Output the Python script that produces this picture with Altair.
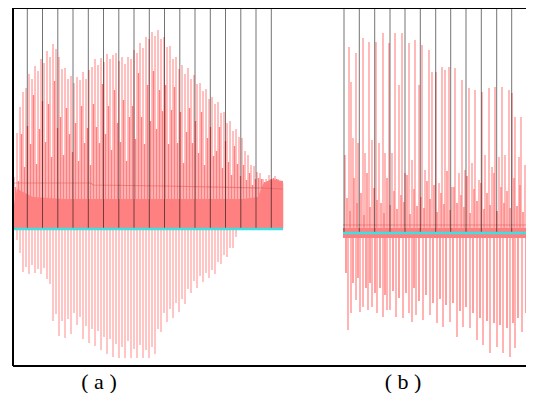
import altair as alt
import pandas as pd

# ---- extents (x = sample index, y = amplitude; panel (a) baseline = 0) ----
X_MIN, X_MAX = 0, 513
Y_MIN, Y_MAX = -137, 221
B_BASE = -4          # baseline of panel (b)
A_END = 270          # last sample of panel (a)
B_START, B_END = 330, 521

# ---- panel (a) : upward pulses ----
a_peak_x = [1 + 3 * i for i in range(90)]
a_peak = [52, 96, 122, 137, 141, 155, 150, 163, 158, 170,
          166, 178, 172, 185, 180, 172, 160, 161, 150, 153,
          146, 152, 149, 157, 150, 159, 162, 170, 164, 171,
          167, 175, 170, 174, 176, 168, 172, 165, 172, 170,
          179, 176, 186, 181, 192, 190, 197, 193, 199, 190,
          192, 182, 183, 170, 172, 160, 164, 155, 161, 150,
          154, 145, 146, 138, 140, 130, 132, 125, 127, 116,
          117, 106, 108, 98, 100, 92, 91, 78, 74, 64,
          63, 57, 56, 50, 50, 54, 49, 53, 50, 48]
a_mid_x = [2.5 + 3 * i for i in range(90)]
a_mid = [42, 48, 95, 62, 103, 85, 134, 65, 100, 128,
         87, 125, 72, 148, 101, 112, 74, 121, 95, 77,
         106, 68, 123, 86, 101, 64, 125, 102, 86, 145,
         95, 123, 79, 139, 106, 87, 129, 68, 112, 123,
         90, 156, 112, 85, 144, 108, 158, 100, 139, 118,
         144, 85, 119, 142, 86, 117, 66, 97, 121, 86,
         108, 76, 117, 64, 91, 102, 73, 78, 102, 61,
         88, 67, 54, 83, 65, 53, 64, 49, 56, 44,
         50, 51, 50, 47, 48, 49, 51, 50, 47, 46]
# ---- panel (a) : downward pulses ----
a_down_x = [4 + 3 * i for i in range(74)]
a_down = [-11, -24, -43, -38, -45, -36, -44, -40, -45, -39,
          -50, -55, -92, -85, -107, -92, -109, -90, -105, -84,
          -96, -88, -110, -97, -114, -100, -117, -102, -121, -108,
          -125, -110, -128, -115, -129, -118, -129, -112, -129, -120,
          -129, -116, -129, -121, -129, -118, -125, -100, -103, -84,
          -93, -80, -89, -74, -83, -70, -75, -60, -64, -52,
          -59, -47, -53, -44, -49, -41, -45, -33, -35, -26,
          -28, -19, -19, -8]
# ---- panel (a) : dense body and level line ----
a_body_x = [0, 4, 20, 50, 90, 140, 190, 230, 245, 250, 258, 270]
a_body = [20, 40, 32, 30, 30, 30, 30, 30, 32, 45, 50, 48]
a_level_x = [0, 78, 80, 150, 250, 270]
a_level = [46, 46, 44, 43, 41, 40]

# ---- panel (b) ----
b_up_x = [332, 336, 338, 340, 343, 345, 350, 352, 356, 359, 363, 366, 370, 372,
          376, 379, 382, 386, 389, 392, 396, 399, 402, 406, 409, 412, 416, 419,
          423, 426, 429, 432, 436, 439, 442, 446, 449, 452, 456, 459, 462, 466,
          469, 472, 476, 479, 482, 486, 489, 492, 496, 499, 502, 506, 508, 512,
          516, 519]
b_up = [78, 186, 151, 95, 180, 90, 195, 80, 191, 93, 191, 90, 200, 80,
        190, 80, 200, 148, 200, 60, 190, 73, 193, 148, 188, 63, 183, 161,
        161, 50, 166, 163, 166, 46, 165, 60, 153, 63, 145, 70, 143, 53,
        141, 78, 145, 66, 146, 76, 146, 78, 143, 140, 116, 76, 116, 68,
        33, 80]
b_small_x = [334, 341, 348, 354, 361, 368, 374, 381, 388, 394, 401, 408, 414, 421,
             428, 434, 441, 448, 454, 461, 468, 474, 481, 488, 494, 501, 507, 514, 520]
b_small = [35, 55, 40, 60, 45, 30, 55, 42, 38, 58, 44, 36, 52, 48,
           40, 62, 46, 38, 57, 44, 50, 40, 60, 46, 42, 55, 48, 36, 45]
b_small2_x = [337, 344, 351, 357, 364, 371, 377, 384, 391, 397, 404, 411, 417, 424,
              431, 437, 444, 451, 457, 464, 471, 477, 484, 491, 497, 504, 510, 517]
b_small2 = [22, 30, 18, 26, 33, 20, 28, 24, 31, 19, 27, 25, 34, 21,
            29, 23, 30, 26, 20, 32, 24, 28, 22, 30, 25, 27, 21, 29]
b_down_x = [335, 338, 343, 347, 350, 355, 359, 364, 370, 374, 377, 383, 390, 396,
            399, 403, 410, 417, 424, 430, 437, 444, 450, 457, 464, 470, 477, 484,
            490, 497, 502, 509, 517]
b_down = [-97, -80, -67, -79, -74, -77, -74, -80, -84, -77, -77, -84, -85, -80,
          -89, -82, -87, -82, -90, -94, -89, -104, -94, -95, -107, -112, -120, -114,
          -120, -124, -115, -99, -107]
b_down2_x = [333, 340, 345, 353, 357, 362, 367, 372, 380, 386, 393, 401, 406, 413,
             420, 427, 433, 440, 447, 453, 460, 467, 474, 481, 487, 494, 500, 505,
             513, 520]
b_down2 = [-40, -50, -45, -55, -50, -60, -55, -62, -58, -65, -60, -55, -68, -62,
           -70, -66, -72, -70, -78, -74, -80, -85, -88, -90, -92, -95, -90, -85,
           -80, -75]
b_body_x = [330, 521]
b_body_hi = [5, 5]
b_body_lo = [-5, -5]
b_level = 8

# ---- frame markers ----
a_marks = [14.3, 29.5, 44.8, 60, 75.3, 90.5, 105.8, 121, 136.3, 151.5,
           166.8, 182, 197.3, 212.5, 227.8, 243, 258.3]
b_marks = [331, 346.3, 361.7, 377, 392, 407.3, 422.7, 437.7, 453, 468.3,
           483.7, 498.7, 514.3]

labels = ["( a )", "( b )"]
label_x = [86, 390]
label_y = [-153, -153]

RED = "#ff8080"
xs = alt.Scale(domain=[X_MIN, X_MAX], nice=False, zero=False)
ys = alt.Scale(domain=[Y_MIN, Y_MAX], nice=False, zero=False)


def spikes(xv, yv, base, width, color=RED, opacity=1.0):
    df = pd.DataFrame({"x": xv, "y": [base] * len(xv), "y2": [base + v for v in yv]})
    return alt.Chart(df).mark_rule(color=color, strokeWidth=width, opacity=opacity,
                                   clip=True).encode(
        x=alt.X("x:Q", scale=xs, axis=None),
        y=alt.Y("y:Q", scale=ys, axis=None),
        y2="y2:Q",
    )


def band(xv, lo, hi, color=RED):
    df = pd.DataFrame({"x": xv, "lo": lo, "hi": hi})
    return alt.Chart(df).mark_area(color=color, opacity=1, clip=True).encode(
        x=alt.X("x:Q", scale=xs, axis=None),
        y=alt.Y("lo:Q", scale=ys, axis=None),
        y2="hi:Q",
    )


def line(xv, yv, color, width, opacity=1.0):
    df = pd.DataFrame({"x": xv, "y": yv})
    return alt.Chart(df).mark_line(color=color, strokeWidth=width, opacity=opacity,
                                   clip=True).encode(
        x=alt.X("x:Q", scale=xs, axis=None),
        y=alt.Y("y:Q", scale=ys, axis=None),
    )


layers = []
layers.append(band(a_body_x, [0] * len(a_body_x), a_body))
layers.append(band(b_body_x, [B_BASE + v for v in b_body_lo], [B_BASE + v for v in b_body_hi]))
layers.append(spikes(a_mid_x, a_mid, 0, 1.5))
layers.append(spikes(a_peak_x, a_peak, 0, 1.0))
layers.append(spikes(a_down_x, a_down, 0, 0.9))
layers.append(spikes(b_small2_x, b_small2, B_BASE, 1.5))
layers.append(spikes(b_small_x, b_small, B_BASE, 1.4))
layers.append(spikes(b_up_x, b_up, B_BASE, 1.1))
layers.append(spikes(b_down2_x, b_down2, B_BASE, 1.5))
layers.append(spikes(b_down_x, b_down, B_BASE, 1.2))
layers.append(line(a_level_x, a_level, "#e06060", 1.2, 0.6))
layers.append(line(b_body_x, [B_BASE + b_level] * 2, "#e06060", 1.2, 0.6))

# frame markers (black verticals)
mk = pd.DataFrame({"x": a_marks + b_marks,
                   "y": [0] * len(a_marks) + [B_BASE] * len(b_marks),
                   "y2": [Y_MAX] * (len(a_marks) + len(b_marks))})
layers.append(alt.Chart(mk).mark_rule(color="black", strokeWidth=1, opacity=0.55,
                                      clip=True).encode(
    x=alt.X("x:Q", scale=xs, axis=None), y=alt.Y("y:Q", scale=ys, axis=None), y2="y2:Q"))

# baselines (cyan)
layers.append(line([X_MIN, A_END], [0, 0], "#40e0e0", 2.5))
layers.append(line([B_START, B_END], [B_BASE, B_BASE], "#40e0e0", 2.5))

# frame
fr_v = pd.DataFrame({"x": [X_MIN], "y": [Y_MIN], "y2": [Y_MAX]})
layers.append(alt.Chart(fr_v).mark_rule(color="black", strokeWidth=2).encode(
    x=alt.X("x:Q", scale=xs, axis=None), y=alt.Y("y:Q", scale=ys, axis=None), y2="y2:Q"))
fr_h = pd.DataFrame({"x": [X_MIN, X_MIN], "x2": [X_MAX, X_MAX], "y": [Y_MIN, Y_MAX]})
layers.append(alt.Chart(fr_h).mark_rule(color="black", strokeWidth=2).encode(
    x=alt.X("x:Q", scale=xs, axis=None), x2="x2:Q", y=alt.Y("y:Q", scale=ys, axis=None)))

# labels
lab = pd.DataFrame({"x": label_x, "y": label_y, "t": labels})
layers.append(alt.Chart(lab).mark_text(font="Liberation Serif", fontSize=22, color="black",
                                       align="center", baseline="middle").encode(
    x=alt.X("x:Q", scale=xs, axis=None), y=alt.Y("y:Q", scale=ys, axis=None), text="t:N"))

chart = alt.layer(*layers).properties(
    width=513, height=358,
    autosize="none",
    padding={"left": 5, "top": 0, "right": 0, "bottom": 27},
).configure_view(stroke=None)

chart.save("out.html", embed_options={"renderer": "svg", "actions": False})
